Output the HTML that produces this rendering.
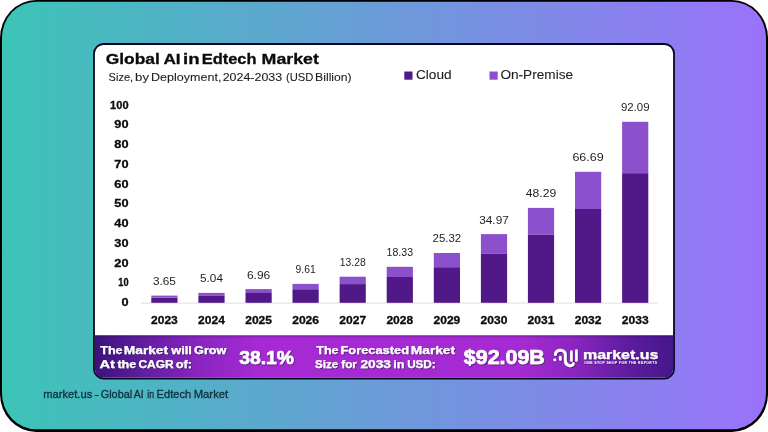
<!DOCTYPE html>
<html lang="en"><head><meta charset="utf-8"><title>Global AI in Edtech Market</title>
<style>
html,body{margin:0;padding:0;background:#fff;}
body{width:768px;height:432px;overflow:hidden;font-family:"Liberation Sans",Arial,sans-serif;}
svg{display:block}
text{font-family:"Liberation Sans",Arial,sans-serif;}
.b{font-weight:700}
.k{stroke:#0b0b0b;stroke-width:0.3px}
</style></head><body>
<svg width="768" height="432" viewBox="0 0 768 432">
<defs>
<linearGradient id="bg" x1="0" y1="0" x2="1" y2="0">
<stop offset="0" stop-color="#3cc4b7"/><stop offset="1" stop-color="#9a72fa"/>
</linearGradient>
<linearGradient id="ban" x1="0" y1="0" x2="1" y2="0">
<stop offset="0" stop-color="#3b137c"/><stop offset="0.08" stop-color="#5f1c9f"/><stop offset="0.18" stop-color="#8a25c0"/><stop offset="0.28" stop-color="#a52ad3"/><stop offset="0.74" stop-color="#a52ad3"/><stop offset="0.83" stop-color="#8a25c0"/><stop offset="0.92" stop-color="#5f1c9f"/><stop offset="1" stop-color="#45178a"/>
</linearGradient>
<linearGradient id="bsh" x1="0" y1="0" x2="0" y2="1"><stop offset="0" stop-color="#1a0440" stop-opacity="0.3"/><stop offset="1" stop-color="#1a0440" stop-opacity="0"/></linearGradient>
<filter id="ds" x="-5%" y="-20%" width="110%" height="150%"><feDropShadow dx="0.7" dy="0.9" stdDeviation="0.6" flood-color="#2a0a55" flood-opacity="0.7"/></filter>
<clipPath id="cardclip"><rect x="95" y="45" width="578" height="332.5" rx="8" ry="8"/></clipPath>
</defs>
<rect x="0" y="0" width="768" height="432" rx="36" ry="38" fill="#000"/>
<rect x="2" y="1.7" width="764" height="427.6" rx="34" ry="36" fill="url(#bg)"/>
<rect x="94" y="44" width="580" height="334.5" rx="9.5" ry="9.5" fill="#fff" stroke="#05051e" stroke-width="1.8"/>
<g clip-path="url(#cardclip)">
<rect x="95" y="335.3" width="578" height="43" fill="url(#ban)"/>
<rect x="95" y="335.3" width="578" height="3" fill="url(#bsh)"/>
</g>

<text y="64.0" font-size="15.4" font-weight="700" fill="#0b0b0b" stroke="#0b0b0b" stroke-width="0.3"><tspan x="105.79" textLength="54.02" lengthAdjust="spacingAndGlyphs">Global</tspan> <tspan x="163.43" textLength="17.21" lengthAdjust="spacingAndGlyphs">AI</tspan> <tspan x="183.07" textLength="16.57" lengthAdjust="spacingAndGlyphs">in</tspan> <tspan x="201.67" textLength="54.84" lengthAdjust="spacingAndGlyphs">Edtech</tspan> <tspan x="261.63" textLength="57.32" lengthAdjust="spacingAndGlyphs">Market</tspan></text>
<text y="81.1" font-size="11.3" fill="#1e1e1e" stroke="#1e1e1e" stroke-width="0.1"><tspan x="108.62" textLength="24.53" lengthAdjust="spacingAndGlyphs">Size,</tspan> <tspan x="135.12" textLength="13.86" lengthAdjust="spacingAndGlyphs">by</tspan> <tspan x="151.07" textLength="70.34" lengthAdjust="spacingAndGlyphs">Deployment,</tspan> <tspan x="222.71" textLength="59.46" lengthAdjust="spacingAndGlyphs">2024-2033</tspan> <tspan x="286.04" textLength="27.44" lengthAdjust="spacingAndGlyphs">(USD</tspan> <tspan x="315.14" textLength="36.51" lengthAdjust="spacingAndGlyphs">Billion)</tspan></text>
<text y="79" font-size="12.6" fill="#1e1e1e" stroke="#1e1e1e" stroke-width="0.1"><tspan x="415.95" textLength="35.68" lengthAdjust="spacingAndGlyphs">Cloud</tspan> <tspan x="500.43" textLength="72.62" lengthAdjust="spacingAndGlyphs">On-Premise</tspan></text>
<text y="398.1" font-size="11.6" fill="#10323f" stroke="#10323f" stroke-width="0.35"><tspan x="43.29" textLength="48.98" lengthAdjust="spacingAndGlyphs">market.us</tspan> <tspan x="94.36" textLength="4.89" lengthAdjust="spacingAndGlyphs">-</tspan> <tspan x="100.75" textLength="31.43" lengthAdjust="spacingAndGlyphs">Global</tspan> <tspan x="133.81" textLength="10.01" lengthAdjust="spacingAndGlyphs">AI</tspan> <tspan x="147.30" textLength="6.80" lengthAdjust="spacingAndGlyphs">in</tspan> <tspan x="156.57" textLength="34.57" lengthAdjust="spacingAndGlyphs">Edtech</tspan> <tspan x="193.67" textLength="34.57" lengthAdjust="spacingAndGlyphs">Market</tspan></text>
<rect x="404.3" y="71.5" width="8.2" height="8.2" fill="#4f1a88"/>
<rect x="489.5" y="71.5" width="8.2" height="8.2" fill="#8c50cd"/>
<text class="b k" x="121.45" y="306.0" font-size="10.6" fill="#0b0b0b" textLength="7.10" lengthAdjust="spacingAndGlyphs">0</text>
<text class="b k" x="118.25" y="286.2" font-size="10.6" fill="#0b0b0b" textLength="10.30" lengthAdjust="spacingAndGlyphs">10</text>
<text class="b k" x="114.35" y="266.5" font-size="10.6" fill="#0b0b0b" textLength="14.20" lengthAdjust="spacingAndGlyphs">20</text>
<text class="b k" x="114.35" y="246.8" font-size="10.6" fill="#0b0b0b" textLength="14.20" lengthAdjust="spacingAndGlyphs">30</text>
<text class="b k" x="114.35" y="227.0" font-size="10.6" fill="#0b0b0b" textLength="14.20" lengthAdjust="spacingAndGlyphs">40</text>
<text class="b k" x="114.35" y="207.2" font-size="10.6" fill="#0b0b0b" textLength="14.20" lengthAdjust="spacingAndGlyphs">50</text>
<text class="b k" x="114.35" y="187.5" font-size="10.6" fill="#0b0b0b" textLength="14.20" lengthAdjust="spacingAndGlyphs">60</text>
<text class="b k" x="114.35" y="167.8" font-size="10.6" fill="#0b0b0b" textLength="14.20" lengthAdjust="spacingAndGlyphs">70</text>
<text class="b k" x="114.35" y="148.0" font-size="10.6" fill="#0b0b0b" textLength="14.20" lengthAdjust="spacingAndGlyphs">80</text>
<text class="b k" x="114.35" y="128.2" font-size="10.6" fill="#0b0b0b" textLength="14.20" lengthAdjust="spacingAndGlyphs">90</text>
<text class="b k" x="110.10" y="108.5" font-size="10.6" fill="#0b0b0b" textLength="18.45" lengthAdjust="spacingAndGlyphs">100</text>
<rect x="141" y="302.6" width="517" height="1" fill="#dedede"/>
<rect x="151.3" y="295.6" width="26.2" height="2.0" fill="#8c50cd"/>
<rect x="151.3" y="297.7" width="26.2" height="5.1" fill="#501987"/>
<text x="164.4" y="285.0" font-size="11" fill="#1e1e1e" text-anchor="middle" textLength="22.9" lengthAdjust="spacingAndGlyphs">3.65</text>
<text class="b k" x="164.4" y="324.1" font-size="11.5" fill="#0b0b0b" text-anchor="middle" textLength="26.8" lengthAdjust="spacingAndGlyphs">2023</text>
<rect x="198.4" y="292.9" width="26.2" height="2.8" fill="#8c50cd"/>
<rect x="198.4" y="295.7" width="26.2" height="7.1" fill="#501987"/>
<text x="211.5" y="282.3" font-size="11" fill="#1e1e1e" text-anchor="middle" textLength="22.9" lengthAdjust="spacingAndGlyphs">5.04</text>
<text class="b k" x="211.5" y="324.1" font-size="11.5" fill="#0b0b0b" text-anchor="middle" textLength="26.8" lengthAdjust="spacingAndGlyphs">2024</text>
<rect x="245.5" y="289.1" width="26.2" height="3.9" fill="#8c50cd"/>
<rect x="245.5" y="293.0" width="26.2" height="9.8" fill="#501987"/>
<text x="258.6" y="278.5" font-size="11" fill="#1e1e1e" text-anchor="middle" textLength="23.4" lengthAdjust="spacingAndGlyphs">6.96</text>
<text class="b k" x="258.6" y="324.1" font-size="11.5" fill="#0b0b0b" text-anchor="middle" textLength="26.8" lengthAdjust="spacingAndGlyphs">2025</text>
<rect x="292.5" y="283.9" width="26.2" height="5.4" fill="#8c50cd"/>
<rect x="292.5" y="289.3" width="26.2" height="13.5" fill="#501987"/>
<text x="305.6" y="273.3" font-size="11" fill="#1e1e1e" text-anchor="middle" textLength="20.1" lengthAdjust="spacingAndGlyphs">9.61</text>
<text class="b k" x="305.6" y="324.1" font-size="11.5" fill="#0b0b0b" text-anchor="middle" textLength="26.8" lengthAdjust="spacingAndGlyphs">2026</text>
<rect x="339.6" y="276.7" width="26.2" height="7.4" fill="#8c50cd"/>
<rect x="339.6" y="284.1" width="26.2" height="18.7" fill="#501987"/>
<text x="352.7" y="266.1" font-size="11" fill="#1e1e1e" text-anchor="middle" textLength="25.9" lengthAdjust="spacingAndGlyphs">13.28</text>
<text class="b k" x="352.7" y="324.1" font-size="11.5" fill="#0b0b0b" text-anchor="middle" textLength="26.8" lengthAdjust="spacingAndGlyphs">2027</text>
<rect x="386.7" y="266.8" width="26.2" height="10.2" fill="#8c50cd"/>
<rect x="386.7" y="277.0" width="26.2" height="25.8" fill="#501987"/>
<text x="399.8" y="256.2" font-size="11" fill="#1e1e1e" text-anchor="middle" textLength="26.5" lengthAdjust="spacingAndGlyphs">18.33</text>
<text class="b k" x="399.8" y="324.1" font-size="11.5" fill="#0b0b0b" text-anchor="middle" textLength="26.8" lengthAdjust="spacingAndGlyphs">2028</text>
<rect x="433.8" y="253.0" width="26.2" height="14.1" fill="#8c50cd"/>
<rect x="433.8" y="267.2" width="26.2" height="35.6" fill="#501987"/>
<text x="446.9" y="242.4" font-size="11" fill="#1e1e1e" text-anchor="middle" textLength="28.7" lengthAdjust="spacingAndGlyphs">25.32</text>
<text class="b k" x="446.9" y="324.1" font-size="11.5" fill="#0b0b0b" text-anchor="middle" textLength="26.8" lengthAdjust="spacingAndGlyphs">2029</text>
<rect x="480.9" y="234.1" width="26.2" height="19.5" fill="#8c50cd"/>
<rect x="480.9" y="253.6" width="26.2" height="49.2" fill="#501987"/>
<text x="494.0" y="223.5" font-size="11" fill="#1e1e1e" text-anchor="middle" textLength="29.6" lengthAdjust="spacingAndGlyphs">34.97</text>
<text class="b k" x="494.0" y="324.1" font-size="11.5" fill="#0b0b0b" text-anchor="middle" textLength="26.8" lengthAdjust="spacingAndGlyphs">2030</text>
<rect x="527.9" y="207.9" width="26.2" height="26.9" fill="#8c50cd"/>
<rect x="527.9" y="234.9" width="26.2" height="67.9" fill="#501987"/>
<text x="541.0" y="197.3" font-size="11" fill="#1e1e1e" text-anchor="middle" textLength="30.3" lengthAdjust="spacingAndGlyphs">48.29</text>
<text class="b k" x="541.0" y="324.1" font-size="11.5" fill="#0b0b0b" text-anchor="middle" textLength="26.8" lengthAdjust="spacingAndGlyphs">2031</text>
<rect x="575.0" y="171.8" width="26.2" height="37.2" fill="#8c50cd"/>
<rect x="575.0" y="209.0" width="26.2" height="93.8" fill="#501987"/>
<text x="588.1" y="161.2" font-size="11" fill="#1e1e1e" text-anchor="middle" textLength="31.4" lengthAdjust="spacingAndGlyphs">66.69</text>
<text class="b k" x="588.1" y="324.1" font-size="11.5" fill="#0b0b0b" text-anchor="middle" textLength="26.8" lengthAdjust="spacingAndGlyphs">2032</text>
<rect x="622.1" y="121.8" width="26.2" height="51.4" fill="#8c50cd"/>
<rect x="622.1" y="173.2" width="26.2" height="129.6" fill="#501987"/>
<text x="635.2" y="111.2" font-size="11" fill="#1e1e1e" text-anchor="middle" textLength="28.6" lengthAdjust="spacingAndGlyphs">92.09</text>
<text class="b k" x="635.2" y="324.1" font-size="11.5" fill="#0b0b0b" text-anchor="middle" textLength="26.8" lengthAdjust="spacingAndGlyphs">2033</text>
<g filter="url(#ds)">
<text y="353.9" font-size="11.2" font-weight="700" fill="#fff" stroke="#fff" stroke-width="0.25"><tspan x="100.26" textLength="22.30" lengthAdjust="spacingAndGlyphs">The</tspan> <tspan x="123.86" textLength="44.22" lengthAdjust="spacingAndGlyphs">Market</tspan> <tspan x="171.30" textLength="20.56" lengthAdjust="spacingAndGlyphs">will</tspan> <tspan x="194.08" textLength="32.28" lengthAdjust="spacingAndGlyphs">Grow</tspan></text>
<text y="368.4" font-size="11.2" font-weight="700" fill="#fff" stroke="#fff" stroke-width="0.25"><tspan x="99.46" textLength="15.45" lengthAdjust="spacingAndGlyphs">At</tspan> <tspan x="117.45" textLength="18.77" lengthAdjust="spacingAndGlyphs">the</tspan> <tspan x="138.51" textLength="35.17" lengthAdjust="spacingAndGlyphs">CAGR</tspan> <tspan x="175.78" textLength="16.32" lengthAdjust="spacingAndGlyphs">of:</tspan></text>
<text y="364.3" font-size="19.0" font-weight="700" fill="#fff" stroke="#fff" stroke-width="0.6"><tspan x="239.21" textLength="54.61" lengthAdjust="spacingAndGlyphs">38.1%</tspan></text>
<text y="353.9" font-size="11.2" font-weight="700" fill="#fff" stroke="#fff" stroke-width="0.25"><tspan x="316.26" textLength="22.30" lengthAdjust="spacingAndGlyphs">The</tspan> <tspan x="340.46" textLength="68.56" lengthAdjust="spacingAndGlyphs">Forecasted</tspan> <tspan x="410.86" textLength="44.22" lengthAdjust="spacingAndGlyphs">Market</tspan></text>
<text y="368.4" font-size="11.2" font-weight="700" fill="#fff" stroke="#fff" stroke-width="0.25"><tspan x="315.13" textLength="22.90" lengthAdjust="spacingAndGlyphs">Size</tspan> <tspan x="341.32" textLength="15.57" lengthAdjust="spacingAndGlyphs">for</tspan> <tspan x="360.42" textLength="30.47" lengthAdjust="spacingAndGlyphs">2033</tspan> <tspan x="393.17" textLength="11.23" lengthAdjust="spacingAndGlyphs">in</tspan> <tspan x="407.15" textLength="28.48" lengthAdjust="spacingAndGlyphs">USD:</tspan></text>
<text y="363.6" font-size="19.6" font-weight="700" fill="#fff" stroke="#fff" stroke-width="0.6"><tspan x="463.81" textLength="81.05" lengthAdjust="spacingAndGlyphs">$92.09B</tspan></text>
<text y="359" font-size="12.4" font-weight="700" fill="#fff" stroke="#fff" stroke-width="0.25"><tspan x="582.98" textLength="75.29" lengthAdjust="spacingAndGlyphs">market.us</tspan></text>
<g fill="none" stroke="#fff" stroke-width="3" stroke-linecap="round" stroke-linejoin="round">
<path d="M555.4 354.4 C555.4 348.7 565.3 348.7 565.3 354.6 L565.3 360.6 C565.3 366.4 572.6 366.8 573.3 363.8"/>
<path d="M560.3 357.1 L560.3 359.5" stroke-width="2.7"/>
<path d="M571.4 351.5 L571.4 360.5" stroke-width="2.7"/>
<path d="M576.4 350.5 L576.4 360.5" stroke-width="2.7"/>
</g>
<circle cx="554.8" cy="359.7" r="1.5" fill="#fff"/>
<text class="b" x="584.3" y="364.1" font-size="3.3" fill="#fff" textLength="72.6" lengthAdjust="spacing">ONE STOP SHOP FOR THE REPORTS</text>
</g>
</svg></body></html>
